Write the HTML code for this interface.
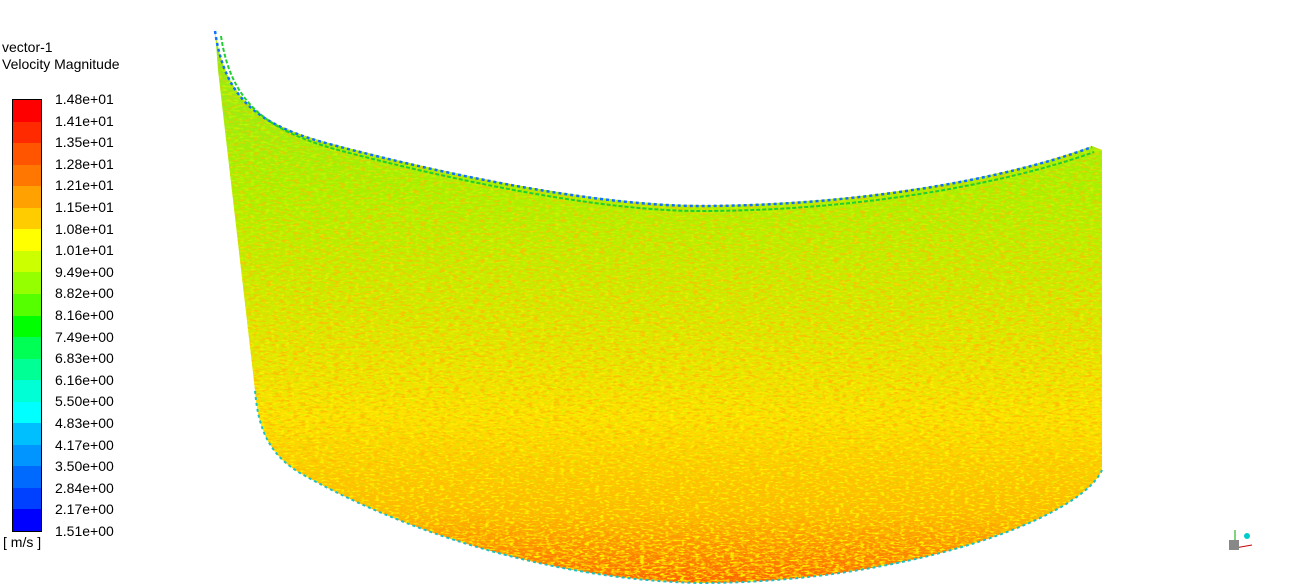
<!DOCTYPE html>
<html><head><meta charset="utf-8"><style>
html,body{margin:0;padding:0;background:#fff;width:1303px;height:588px;overflow:hidden;font-family:"Liberation Sans",sans-serif;}
.t{position:absolute;font-size:14px;color:#000;white-space:nowrap;}
</style></head><body>
<div class="t" style="left:2px;top:39px;line-height:17px">vector-1<br>Velocity Magnitude</div>
<div id="legend"></div>
<div class="t" style="left:3px;top:534px">[ m/s ]</div>
<svg width="1303" height="588" style="position:absolute;left:0;top:0">
<defs>
<linearGradient id="g" x1="0" y1="0" x2="0" y2="1" gradientUnits="objectBoundingBox">
<stop offset="0" stop-color="#90e820"/>
<stop offset="0.3" stop-color="#a8f000"/>
<stop offset="0.5" stop-color="#d0e800"/>
<stop offset="0.7" stop-color="#ffe000"/>
<stop offset="0.87" stop-color="#ffb800"/>
<stop offset="1" stop-color="#ff6000"/>
</linearGradient>
<filter id="n" x="0" y="0" width="100%" height="100%">
<feTurbulence type="fractalNoise" baseFrequency="0.15 0.45" numOctaves="2" seed="3" result="t"/>
<feColorMatrix in="t" type="matrix" values="0 0 0 0 1  0 0 0 0 0.5  0 0 0 0 0  0 0 0 6 -3.0"/>
</filter>
<filter id="m" x="0" y="0" width="100%" height="100%">
<feTurbulence type="fractalNoise" baseFrequency="0.18 0.5" numOctaves="2" seed="11" result="t"/>
<feColorMatrix in="t" type="matrix" values="0 0 0 0 0.5  0 0 0 0 0.95  0 0 0 0 0  0 0 0 6 -3.2"/>
</filter>
<filter id="y" x="0" y="0" width="100%" height="100%">
<feTurbulence type="fractalNoise" baseFrequency="0.2 0.55" numOctaves="2" seed="21" result="t"/>
<feColorMatrix in="t" type="matrix" values="0 0 0 0 1  0 0 0 0 1  0 0 0 0 0  0 0 0 6 -3.2"/>
</filter>
<linearGradient id="fo" x1="0" y1="0" x2="0" y2="1"><stop offset="0" stop-color="#fff" stop-opacity="0.35"/><stop offset="0.6" stop-color="#fff" stop-opacity="0.9"/><stop offset="1" stop-color="#fff" stop-opacity="1"/></linearGradient>
<linearGradient id="fg" x1="0" y1="0" x2="0" y2="1"><stop offset="0" stop-color="#fff" stop-opacity="1"/><stop offset="0.5" stop-color="#fff" stop-opacity="0.6"/><stop offset="1" stop-color="#fff" stop-opacity="0.1"/></linearGradient>
<linearGradient id="fy" x1="0" y1="0" x2="0" y2="1"><stop offset="0" stop-color="#fff" stop-opacity="0"/><stop offset="0.5" stop-color="#fff" stop-opacity="0.4"/><stop offset="1" stop-color="#fff" stop-opacity="0.9"/></linearGradient>
<mask id="mo"><rect x="200" y="30" width="920" height="560" fill="url(#fo)"/></mask>
<mask id="mg"><rect x="200" y="30" width="920" height="560" fill="url(#fg)"/></mask>
<mask id="my"><rect x="200" y="30" width="920" height="560" fill="url(#fy)"/></mask>
<clipPath id="c"><path d="M215,30 C225,100 260,125 333,144 C450,175 600,205 700,205 C850,205 1000,180 1092,146 L1102,150 L1102,470 C1080,520 900,583 700,583 C550,580 400,530 300,473 C270,455 258,430 255,390 L218,70 Z"/></clipPath>
</defs>
<path d="M215,30 C225,100 260,125 333,144 C450,175 600,205 700,205 C850,205 1000,180 1092,146 L1102,150 L1102,470 C1080,520 900,583 700,583 C550,580 400,530 300,473 C270,455 258,430 255,390 L218,70 Z" fill="url(#g)"/>
<g clip-path="url(#c)"><rect x="200" y="30" width="920" height="560" filter="url(#n)" mask="url(#mo)"/>
<rect x="200" y="30" width="920" height="560" filter="url(#m)" mask="url(#mg)"/>
<rect x="200" y="30" width="920" height="560" filter="url(#y)" mask="url(#my)"/></g>
<path d="M215,31 C225,101 260,126 333,145 C450,176 600,206 700,206 C850,206 1000,181 1092,147" fill="none" stroke="#1070ff" stroke-width="2.5" stroke-dasharray="3 3"/>
<path d="M221,36 C231,103 266,130 338,150 C455,181 600,211 700,211 C850,211 1000,186 1094,152" fill="none" stroke="#20d030" stroke-width="2" stroke-dasharray="4 2"/>
<path d="M1102,470 C1080,520 900,583 700,583 C550,580 400,530 300,473 C270,455 258,430 255,390" fill="none" stroke="#20c0c0" stroke-width="2" stroke-dasharray="3 3"/>
<g><line x1="1235" y1="548" x2="1235" y2="530" stroke="#0a0"/><line x1="1235" y1="548" x2="1252" y2="545" stroke="#c00"/><circle cx="1247" cy="536" r="3" fill="#0cc"/><rect x="1229" y="540" width="10" height="10" fill="#888"/></g>
</svg>
<script>
const labels=["1.48e+01","1.41e+01","1.35e+01","1.28e+01","1.21e+01","1.15e+01","1.08e+01","1.01e+01","9.49e+00","8.82e+00","8.16e+00","7.49e+00","6.83e+00","6.16e+00","5.50e+00","4.83e+00","4.17e+00","3.50e+00","2.84e+00","2.17e+00","1.51e+00"];
const hues=[0,10,20,28,38,48,60,72,85,100,120,140,155,170,180,195,205,215,225,240];
const L=document.getElementById('legend');
const top0=100,bot=531,n=hues.length,h=(bot-top0)/n;
hues.forEach((hu,i)=>{const d=document.createElement('div');


d.style.cssText=`position:absolute;left:13px;width:28px;top:${top0+i*h}px;height:${h+0.5}px;background:hsl(${hu},100%,50%)`;L.appendChild(d);});
const b=document.createElement('div');b.style.cssText=`position:absolute;left:12px;top:${top0-1}px;width:28px;height:${bot-top0}px;border:1px solid #000`;


L.appendChild(b);
labels.forEach((t,i)=>{const d=document.createElement('div');d.className='t';


d.textContent=t;d.style.left='55px';d.style.top=(top0-9+i*(bot-top0+1)/(labels.length-1))+'px';L.appendChild(d);});
</script>
</body></html>
